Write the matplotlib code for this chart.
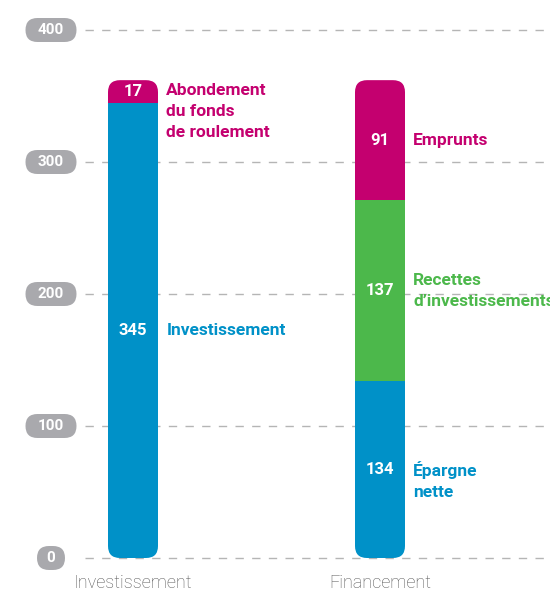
import matplotlib
matplotlib.use("Agg")
import matplotlib.pyplot as plt
from matplotlib.patches import FancyBboxPatch

# data
categories = ["Investissement", "Financement"]
invest_values = [345, 17]
invest_labels = ["Investissement", "Abondement\ndu fonds\nde roulement"]
financ_values = [134, 137, 91]
financ_labels = ["Épargne\nnette", "Recettes\nd’investissements", "Emprunts"]
y_ticks = [0, 100, 200, 300, 400]

BLUE = "#0091c8"
GREEN = "#4cb84b"
MAGENTA = "#c4006f"
PILL = "#a9a9ad"
GRID = "#b5b5b5"

invest_colors = [BLUE, MAGENTA]
financ_colors = [BLUE, GREEN, MAGENTA]
# 'first' puts the first line of the label at the segment middle
invest_va = ["center", "first"]
financ_va = ["first", "center", "center"]

plt.rcParams["font.family"] = ["Roboto", "DejaVu Sans"]

fig = plt.figure(figsize=(5.5, 5.92), dpi=100)
ax = fig.add_axes([0, 34 / 592, 1, 528 / 592])
ax.set_xlim(-133 / 247, 417 / 247)
ax.set_ylim(0, 400)
ax.axis("off")

px_x = 1 / 247   # one pixel in x data units
px_y = 1 / 1.32  # one pixel in y data units
bar_w = 50 * px_x
r_x = 12 * px_x
aspect = (12 * px_y) / r_x

# grid lines and pill tick labels
pill_x = -82 * px_x
for t in y_ticks:
    ax.plot([-48 * px_x, 2.0], [t, t], color=GRID, lw=1, ls=(0, (6, 6)),
            zorder=0, clip_on=False)
    w = (28 if len(str(t)) == 1 else 51) * px_x
    h = 24 * px_y
    pill = FancyBboxPatch((pill_x - w / 2, t - h / 2), w, h,
                          boxstyle=f"round,pad=0,rounding_size={12 * px_x}",
                          mutation_aspect=aspect, fc=PILL, ec="none",
                          zorder=3, clip_on=False)
    ax.add_patch(pill)
    ax.text(pill_x, t, str(t), ha="center", va="center", color="white",
            fontsize=11, fontweight="bold", zorder=4)


def draw_stack(x, values, colors, labels, vas):
    total = sum(values)
    clip = FancyBboxPatch((x - bar_w / 2, 0), bar_w, total,
                          boxstyle=f"round,pad=0,rounding_size={r_x}",
                          mutation_aspect=aspect, fc="none", ec="none",
                          transform=ax.transData)
    ax.add_patch(clip)
    bottom = 0
    for v, c, lab, va in zip(values, colors, labels, vas):
        bars = ax.bar(x, v, bottom=bottom, width=bar_w, color=c, zorder=2)
        for b in bars:
            b.set_clip_path(clip)
        mid = bottom + v / 2
        ax.text(x, mid, str(v), ha="center", va="center", color="white",
                fontsize=12, fontweight="bold", zorder=4)
        if va == "first":
            ax.annotate(lab, (x + bar_w / 2, mid), xytext=(6, 6),
                        textcoords="offset points", ha="left", va="top",
                        color=c, fontsize=12.5, fontweight="bold",
                        linespacing=1.5)
        else:
            ax.annotate(lab, (x + bar_w / 2, mid), xytext=(6, 0),
                        textcoords="offset points", ha="left", va="center",
                        color=c, fontsize=12.5, fontweight="bold",
                        linespacing=1.5)
        bottom += v


draw_stack(0, invest_values, invest_colors, invest_labels, invest_va)
draw_stack(1, financ_values, financ_colors, financ_labels, financ_va)

for i, cat in enumerate(categories):
    ax.text(i, -19, cat, ha="center", va="center", color="#555555",
            fontsize=13, fontweight="light", fontstretch="condensed")

fig.savefig("out.png", dpi=100)
